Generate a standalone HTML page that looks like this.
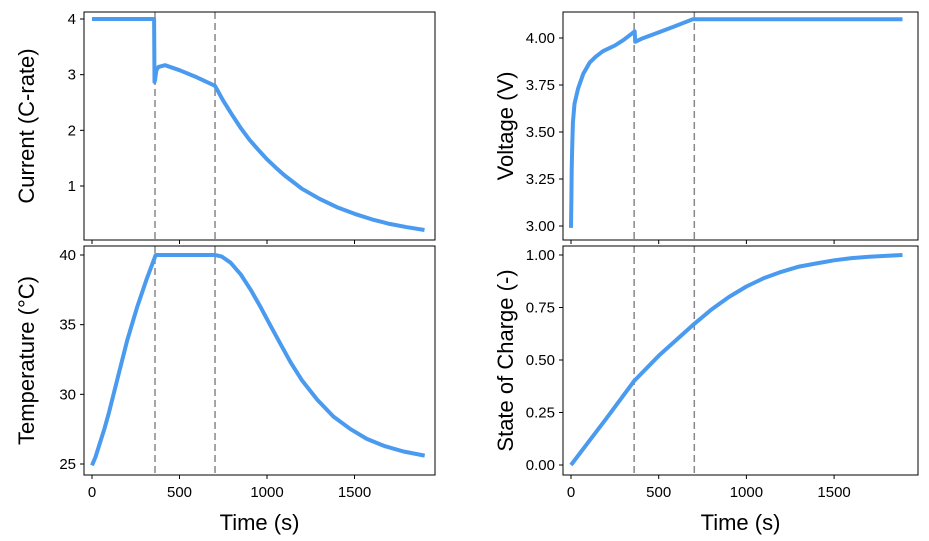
<!DOCTYPE html>
<html><head><meta charset="utf-8"><style>
html,body{margin:0;padding:0;background:#fff;}
svg{display:block;font-family:"Liberation Sans",Arial,sans-serif;}
</style></head><body>
<svg id="chart" width="929" height="541"></svg>
<script>
const curT=[0,355,357,360,368,380,417,500,600,703,750,800,850,900,950,1000,1050,1100,1150,1200,1300,1400,1500,1600,1700,1800,1900];
const curV=[4,4,2.87,2.9,3.08,3.14,3.17,3.08,2.95,2.8,2.53,2.28,2.04,1.83,1.65,1.48,1.33,1.19,1.07,0.95,0.77,0.62,0.5,0.4,0.32,0.26,0.21];
const volT=[0,2,4,6,11,20,40,70,107,140,182,250,300,355,363,366,400,500,600,695,1890];
const volV=[2.99,3.15,3.3,3.4,3.55,3.65,3.73,3.81,3.87,3.9,3.93,3.96,3.99,4.03,4.035,3.98,3.995,4.03,4.065,4.1,4.1];
const tmpT=[0,20,40,70,97,145,202,259,310,364,703,740,792,850,907,964,1021,1078,1135,1200,1288,1380,1478,1570,1669,1780,1901];
const tmpV=[24.9,25.5,26.3,27.5,28.7,31.1,33.9,36.3,38.2,40,40,39.9,39.45,38.6,37.5,36.25,34.9,33.6,32.3,31,29.6,28.4,27.5,26.8,26.3,25.9,25.6];
const socT=[0,100,200,360,500,700,800,900,1000,1100,1200,1300,1400,1500,1600,1700,1890];
const socV=[0,0.11,0.22,0.4,0.52,0.67,0.74,0.8,0.85,0.89,0.92,0.945,0.96,0.975,0.985,0.992,1.0];
const markers=[360,703];
const xTicks=[0,500,1000,1500];
const panels=[
 {name:'current',x0:84,x1:435,y0:12,y1:240,px0:92,pxs:0.175,ya:4,yaPx:19,yb:1,ybPx:186,ticks:[1,2,3,4],fmt:v=>String(v),title:'Current (C-rate)',t:curT,v:curV,xl:false},
 {name:'voltage',x0:563,x1:918,y0:12,y1:240,px0:571,pxs:0.1754,ya:4,yaPx:38,yb:3,ybPx:226,ticks:[3,3.25,3.5,3.75,4],fmt:v=>v.toFixed(2),title:'Voltage (V)',t:volT,v:volV,xl:false},
 {name:'temperature',x0:84,x1:435,y0:246,y1:475,px0:92,pxs:0.175,ya:40,yaPx:255,yb:25,ybPx:464,ticks:[25,30,35,40],fmt:v=>String(v),title:'Temperature (°C)',t:tmpT,v:tmpV,xl:true},
 {name:'soc',x0:563,x1:918,y0:246,y1:475,px0:571,pxs:0.1754,ya:1,yaPx:255,yb:0,ybPx:465,ticks:[0,0.25,0.5,0.75,1],fmt:v=>v.toFixed(2),title:'State of Charge (-)',t:socT,v:socV,xl:true}
];
const NS='http://www.w3.org/2000/svg';
const svg=document.getElementById('chart');
function mk(tag,attrs,parent){const e=document.createElementNS(NS,tag);for(const k in attrs)e.setAttribute(k,attrs[k]);(parent||svg).appendChild(e);return e;}
panels.forEach(p=>{
 const g=mk('g',{});
 
 
 const xs=t=>p.px0+t*p.pxs;
 const ys=v=>p.ybPx+(v-p.yb)*(p.yaPx-p.ybPx)/(p.ya-p.yb);
 markers.forEach(m=>{
  const l=mk('line',{x1:xs(m),x2:xs(m),y1:p.y0,y2:p.y1,stroke:'#888','stroke-width':1.5,'stroke-dasharray':'7,4'},g);
  
  
 });
 const d=p.t.map((t,i)=>(i?'L':'M')+xs(t).toFixed(1)+','+ys(p.v[i]).toFixed(1)).join('');
 const path=mk('path',{d:d,fill:'none',stroke:'#4a9bef','stroke-width':4,'stroke-linejoin':'round','stroke-linecap':'butt'},g);
 
 
 const fr=mk('rect',{x:p.x0,y:p.y0,width:p.x1-p.x0,height:p.y1-p.y0,fill:'none',stroke:'#000','stroke-width':1},g);
 
 
 p.ticks.forEach(v=>{
  mk('line',{x1:p.x0-4,x2:p.x0,y1:ys(v),y2:ys(v),stroke:'#000'},g);
  const tx=mk('text',{x:p.x0-8,y:ys(v)+5,'text-anchor':'end','font-size':15},g);
  tx.textContent=p.fmt(v);
  
  
 });
 xTicks.forEach(v=>{
  mk('line',{x1:xs(v),x2:xs(v),y1:p.y1,y2:p.y1+4,stroke:'#000'},g);
  if(p.xl){
   const tx=mk('text',{x:xs(v),y:p.y1+22,'text-anchor':'middle','font-size':15},g);
   tx.textContent=String(v);
   
   
  }
 });
 const cy=(p.y0+p.y1)/2;
 const yt=mk('text',{x:0,y:0,'text-anchor':'middle','font-size':22,transform:`translate(${p.x0-50},${cy}) rotate(-90)`},g);
 yt.textContent=p.title;
 
 
 if(p.xl){
  const xt=mk('text',{x:(p.x0+p.x1)/2,y:530,'text-anchor':'middle','font-size':22},g);
  xt.textContent='Time (s)';
  
  
 }
});
</script>
</body></html>
